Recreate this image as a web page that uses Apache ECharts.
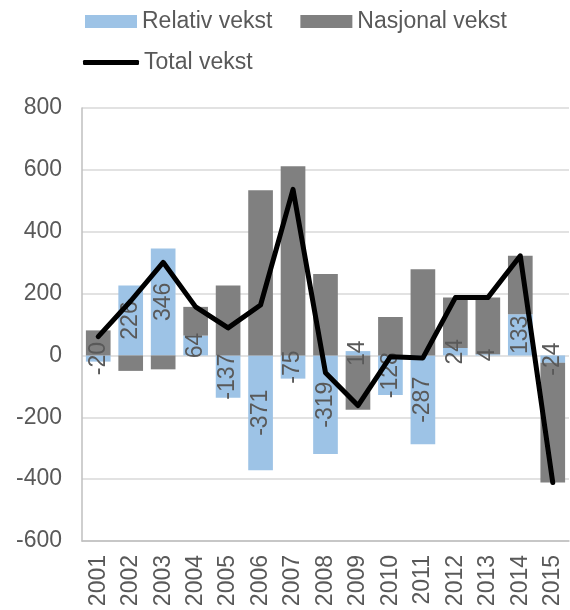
<!DOCTYPE html>
<html>
<head>
<meta charset="utf-8">
<script src="https://cdn.jsdelivr.net/npm/echarts@6/dist/echarts.min.js"></script>
<style>
  html, body { margin: 0; padding: 0; background: #fff; }
  #chart { width: 570px; height: 610px; }
</style>
</head>
<body>
<div id="chart"></div>
<script>
// data
var years = ["2001", "2002", "2003", "2004", "2005", "2006", "2007", "2008",
  "2009", "2010", "2011", "2012", "2013", "2014", "2015"];
var relativ = [-20, 226, 346, 64, -137, -371, -75, -319, 14, -128, -287, 24, 4, 133, -24];
var nasjonal = [81, -50, -45, 93, 226, 534, 612, 263, -176, 124, 279, 163, 183, 189, -387];
var total = [61, 176, 301, 157, 89, 163, 537, -56, -162, -4, -8, 187, 187, 322, -411];

var font = "Liberation Sans, Arial, sans-serif";
var textColor = "#595959";
var fs = 23;

var chartDom = document.getElementById("chart");
var myChart = echarts.init(chartDom, null, { renderer: "canvas" });
var option;

option = {
  animation: false,
  textStyle: { fontFamily: font },
  legend: [
    {
      left: 80,
      top: 5,
      itemWidth: 52,
      itemHeight: 13,
      itemGap: 28,
      icon: "rect",
      textStyle: { fontSize: fs, color: textColor, fontFamily: font },
      data: ["Relativ vekst", "Nasjonal vekst"],
    },
    {
      left: 78,
      top: 46,
      itemWidth: 56,
      itemHeight: 5,
      icon: "roundRect",
      textStyle: { fontSize: fs, color: textColor, fontFamily: font },
      data: ["Total vekst"],
    },
  ],
  grid: {
    left: 82,
    right: 1,
    top: 108,
    bottom: 69,
    outerBoundsMode: "none",
  },
  xAxis: {
    type: "category",
    data: years,
    position: "bottom",
    axisLine: { onZero: false, lineStyle: { color: "#bfbfbf", width: 1.5 } },
    axisTick: { show: false },
    axisLabel: {
      rotate: 90,
      margin: 14,
      fontSize: fs,
      color: textColor,
      fontFamily: font,
      interval: 0,
    },
  },
  yAxis: {
    type: "value",
    min: -600,
    max: 800,
    interval: 200,
    axisLine: { show: true, lineStyle: { color: "#bfbfbf", width: 1.5 } },
    axisTick: { show: false },
    splitLine: { lineStyle: { color: "#d9d9d9", width: 1.5 } },
    axisLabel: { fontSize: fs, color: textColor, margin: 20, fontFamily: font },
  },
  series: [
    {
      name: "Relativ vekst",
      type: "bar",
      stack: "total",
      barCategoryGap: "24%",
      itemStyle: { color: "#9dc3e6" },
      label: {
        show: true,
        position: "inside",
        rotate: 90,
        fontSize: fs,
        color: textColor,
        fontFamily: font,
      },
      data: relativ,
    },
    {
      name: "Nasjonal vekst",
      type: "bar",
      stack: "total",
      barCategoryGap: "24%",
      itemStyle: { color: "#808080" },
      data: nasjonal,
    },
    {
      name: "Total vekst",
      type: "line",
      symbol: "none",
      itemStyle: { color: "#000" },
      lineStyle: { color: "#000", width: 5, cap: "round", join: "round" },
      data: total,
      z: 5,
    },
  ],
};

option && myChart.setOption(option);
</script>
</body>
</html>
